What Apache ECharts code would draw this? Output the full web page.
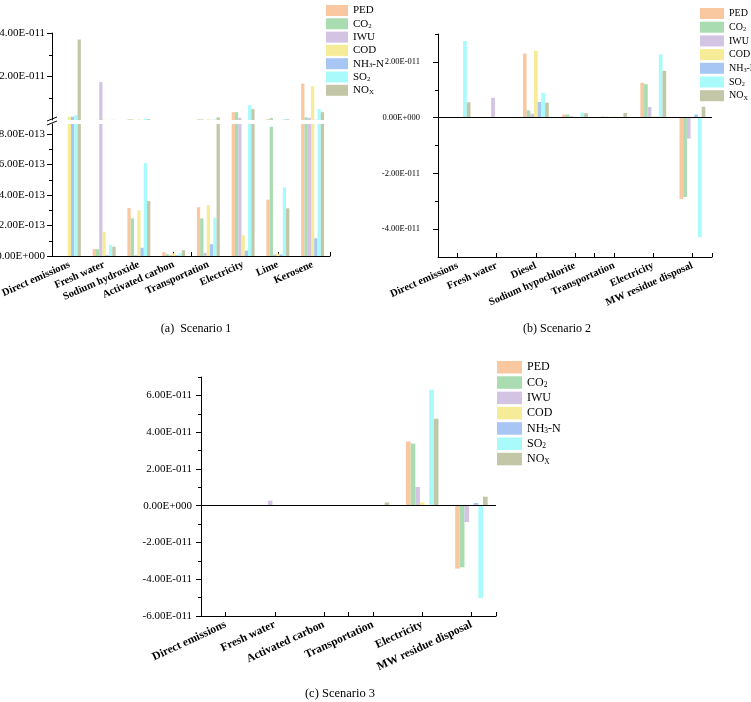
<!DOCTYPE html>
<html>
<head>
<meta charset="utf-8">
<title>Scenario contributions</title>
<script src="https://cdn.jsdelivr.net/npm/echarts@6/dist/echarts.min.js"></script>
<style>
html, body { margin: 0; padding: 0; background: #fff; }
#main { width: 751px; height: 702px; }
</style>
</head>
<body>
<div id="main"></div>
<script>
// 类别
var cat1 = ['Direct emissions', 'Fresh water', 'Sodium hydroxide', 'Activated carbon', 'Transportation', 'Electricity', 'Lime', 'Kerosene'];
var cat2 = ['Direct emissions', 'Fresh water', 'Diesel', 'Sodium hypochlorite', 'Transportation', 'Electricity', 'MW residue disposal'];
var cat3 = ['Direct emissions', 'Fresh water', 'Activated carbon', 'Transportation', 'Electricity', 'MW residue disposal'];

var names = ['PED', 'CO2', 'IWU', 'COD', 'NH3-N', 'SO2', 'NOX'];
var colors = ['#F9C8A1', '#A9DCB1', '#D4C4E4', '#F6EC98', '#A7C6F4', '#A9FBFB', '#C3C7A7'];

// Scenario 1
var s1PED = [0, 4.6e-14, 3.15e-13, 2.5e-14, 3.2e-13, 3.6e-12, 3.7e-13, 1.67e-11];
var s1CO2 = [0, 4.5e-14, 2.47e-13, 1.2e-14, 2.47e-13, 3.6e-12, 8.48e-13, 1.2e-12];
var s1IWU = [0, 1.74e-11, 5e-15, 5e-15, 2e-14, 1.0e-12, 1e-14, 1.0e-12];
var s1COD = [1.4e-12, 1.59e-13, 3.0e-13, 1.8e-14, 3.34e-13, 1.36e-13, 1.5e-14, 1.56e-11];
var s1NH3 = [1.5e-12, 5e-15, 5.4e-14, 5e-15, 7.7e-14, 3.5e-14, 1e-14, 1.16e-13];
var s1SO2 = [2.2e-12, 7.2e-14, 6.1e-13, 1.8e-14, 2.5e-13, 6.8e-12, 4.5e-13, 5.0e-12];
var s1NOX = [3.7e-11, 6.1e-14, 3.6e-13, 3.8e-14, 1.2e-12, 5.0e-12, 3.13e-13, 3.6e-12];

// Scenario 2
var s2PED = [0, 0, 2.3e-11, 1.1e-12, 4e-13, 1.25e-11, -2.92e-11];
var s2CO2 = [0, 0, 2.6e-12, 1.1e-12, 3e-13, 1.2e-11, -2.85e-11];
var s2IWU = [0, 7.1e-12, 1.4e-12, 5e-13, 1e-13, 3.8e-12, -7.5e-12];
var s2COD = [0, 0, 2.4e-11, 2e-13, 4e-13, 5e-13, -2e-13];
var s2NH3 = [0, 0, 5.6e-12, 1e-13, 1e-13, 3e-13, 1.1e-12];
var s2SO2 = [2.75e-11, 0, 8.9e-12, 1.8e-12, 3e-13, 2.27e-11, -4.29e-11];
var s2NOX = [5.5e-12, 0, 5.4e-12, 1.6e-12, 1.65e-12, 1.68e-11, 3.9e-12];

// Scenario 3
var s3PED = [0, 0, 0, 3e-13, 3.49e-11, -3.42e-11];
var s3CO2 = [0, 0, 0, 2e-13, 3.38e-11, -3.35e-11];
var s3IWU = [0, 2.7e-12, 0, 1e-13, 1.02e-11, -8.9e-12];
var s3COD = [0, 0, 0, 3e-13, 1.8e-12, -2e-13];
var s3NH3 = [0, 0, 0, 1e-13, 3e-13, 1.5e-12];
var s3SO2 = [0, 0, 0, 2e-13, 6.31e-11, -5.02e-11];
var s3NOX = [0, 0, 0, 1.8e-12, 4.73e-11, 4.9e-12];

// 刻度
var p1UpMajor = [2e-11, 4e-11];
var p1UpMinor = [1e-11, 3e-11];
var p1LowMajor = [0, 2e-13, 4e-13, 6e-13, 8e-13];
var p1LowMinor = [1e-13, 3e-13, 5e-13, 7e-13];
var p2Major = [-4e-11, -2e-11, 0, 2e-11];
var p2Minor = [-3e-11, -1e-11, 1e-11, 3e-11];
var p3Major = [-6e-11, -4e-11, -2e-11, 0, 2e-11, 4e-11, 6e-11];
var p3Minor = [-5e-11, -3e-11, -1e-11, 1e-11, 3e-11, 5e-11, 7e-11];

var serif = '"Liberation Serif", "Times New Roman", serif';

function sci(v) {
    if (v === 0) return '0.00E+000';
    var parts = v.toExponential(2).split('e');
    var e = parseInt(parts[1], 10);
    var d = String(Math.abs(e));
    while (d.length < 3) d = '0' + d;
    return parts[0] + 'E' + (e < 0 ? '-' : '+') + d;
}

function legendLabel(name) {
    if (name === 'CO2') return '{n|CO}{s|2}';
    if (name === 'NH3-N') return '{n|NH}{s|3}{n|-N}';
    if (name === 'SO2') return '{n|SO}{s|2}';
    if (name === 'NOX') return '{n|NO}{s|X}';
    return '{n|' + name + '}';
}

function legendCfg(left, top, w, h, gap, fs) {
    return {
        orient: 'vertical', left: left, top: top,
        itemWidth: w, itemHeight: h, itemGap: gap, icon: 'rect',
        selectedMode: false, data: names, formatter: legendLabel,
        textStyle: {
            fontFamily: serif, fontSize: fs, color: '#000', lineHeight: h,
            rich: {
                n: { fontFamily: serif, fontSize: fs, color: '#000', lineHeight: h },
                s: { fontFamily: serif, fontSize: fs * 0.62, color: '#000', lineHeight: h * 0.55, verticalAlign: 'bottom' }
            }
        }
    };
}

// 一对y轴：主刻度+标签，次刻度
function yPair(grid, min, max, major, minor, fs, margin) {
    return [{
        type: 'value', gridIndex: grid, min: min, max: max, position: 'left', offset: 0,
        axisLine: { show: true, onZero: false, lineStyle: { color: '#000', width: 1 } },
        splitLine: { show: false },
        axisTick: { show: true, customValues: major, length: 5, lineStyle: { color: '#000' } },
        axisLabel: { show: true, customValues: major, formatter: sci, margin: margin,
            fontFamily: serif, fontSize: fs, color: '#000' }
    }, {
        type: 'value', gridIndex: grid, min: min, max: max, position: 'left', offset: 0,
        axisLine: { show: false }, splitLine: { show: false },
        axisTick: { show: true, customValues: minor, length: 3, lineStyle: { color: '#000' } },
        axisLabel: { show: false }
    }];
}

// 一对x轴：带标签的中心刻度，边界刻度
function xPair(grid, cats, rotate, fs) {
    return [{
        type: 'category', gridIndex: grid, data: cats, position: 'bottom', offset: 0,
        axisLine: { show: true, onZero: false, lineStyle: { color: '#000', width: 1 } },
        axisTick: { show: true, inside: true, alignWithLabel: true, length: 4, lineStyle: { color: '#000' } },
        axisLabel: { interval: 0, rotate: rotate, margin: 8, fontFamily: serif, fontWeight: 'bold', fontSize: fs, color: '#000' },
        splitLine: { show: false }
    }, {
        type: 'category', gridIndex: grid, data: cats, position: 'bottom', offset: 0,
        axisLine: { show: false, onZero: false },
        axisTick: { show: true, inside: true, length: 4, lineStyle: { color: '#000' } },
        axisLabel: { show: false }, splitLine: { show: false }
    }];
}

function barGroup(list, xIdx, yIdx, zeroLine) {
    return list.map(function (d, i) {
        var s = {
            name: names[i], type: 'bar', xAxisIndex: xIdx, yAxisIndex: yIdx,
            data: d, clip: true, barGap: '0%', barCategoryGap: '34%',
            itemStyle: { color: colors[i] }, silent: true
        };
        if (zeroLine && i === 0) {
            s.markLine = {
                silent: true, symbol: ['none', 'none'], label: { show: false },
                lineStyle: { color: '#000', width: 1, type: 'solid' },
                data: [{ yAxis: 0 }]
            };
        }
        return s;
    });
}

var s1 = [s1PED, s1CO2, s1IWU, s1COD, s1NH3, s1SO2, s1NOX];
var s2 = [s2PED, s2CO2, s2IWU, s2COD, s2NH3, s2SO2, s2NOX];
var s3 = [s3PED, s3CO2, s3IWU, s3COD, s3NH3, s3SO2, s3NOX];

var myChart = echarts.init(document.getElementById('main'));

// 上半段（断轴以上）不显示x轴
var xUpper = {
    type: 'category', gridIndex: 0, data: cat1, show: false
};

var option = {
    animation: false,
    grid: [
        { left: 52, top: 33, width: 278, height: 87, outerBoundsMode: 'none', containLabel: false },
        { left: 52, top: 124, width: 278, height: 132, outerBoundsMode: 'none', containLabel: false },
        { left: 438, top: 34, width: 274, height: 223, outerBoundsMode: 'none', containLabel: false },
        { left: 201, top: 377, width: 295, height: 239, outerBoundsMode: 'none', containLabel: false }
    ],
    legend: [
        legendCfg(321, 0, 22, 11, 2.3, 11),
        legendCfg(695, 3, 24, 11, 2.7, 10),
        legendCfg(492, 356, 25, 12.5, 2.8, 12)
    ],
    xAxis: [xUpper]
        .concat(xPair(1, cat1, 24, 10.5))
        .concat(xPair(2, cat2, 24, 10.5))
        .concat(xPair(3, cat3, 25, 11.5)),
    yAxis: []
        .concat(yPair(0, 0, 4e-11, p1UpMajor, p1UpMinor, 11, 7))
        .concat(yPair(1, 0, 8.66e-13, p1LowMajor, p1LowMinor, 11, 7))
        .concat(yPair(2, -5e-11, 3e-11, p2Major, p2Minor, 8.5, 18))
        .concat(yPair(3, -6e-11, 7e-11, p3Major, p3Minor, 11, 9)),
    series: []
        .concat(barGroup(s1, 0, 0, false))
        .concat(barGroup(s1, 1, 2, false))
        .concat(barGroup(s2, 3, 4, true))
        .concat(barGroup(s3, 5, 6, true)),
    graphic: [
        // 断轴标记
        { type: 'line', shape: { x1: 47, y1: 121, x2: 57, y2: 117 }, style: { stroke: '#000', lineWidth: 1 } },
        { type: 'line', shape: { x1: 47, y1: 125, x2: 57, y2: 121 }, style: { stroke: '#000', lineWidth: 1 } },
        { type: 'text', x: 196, y: 329, style: { text: '(a)  Scenario 1', font: '12px ' + serif, fill: '#000', textAlign: 'center', textVerticalAlign: 'middle' } },
        { type: 'text', x: 557, y: 329, style: { text: '(b) Scenario 2', font: '12px ' + serif, fill: '#000', textAlign: 'center', textVerticalAlign: 'middle' } },
        { type: 'text', x: 340, y: 694, style: { text: '(c) Scenario 3', font: '12.5px ' + serif, fill: '#000', textAlign: 'center', textVerticalAlign: 'middle' } }
    ]
};

myChart.setOption(option);
</script>
</body>
</html>
